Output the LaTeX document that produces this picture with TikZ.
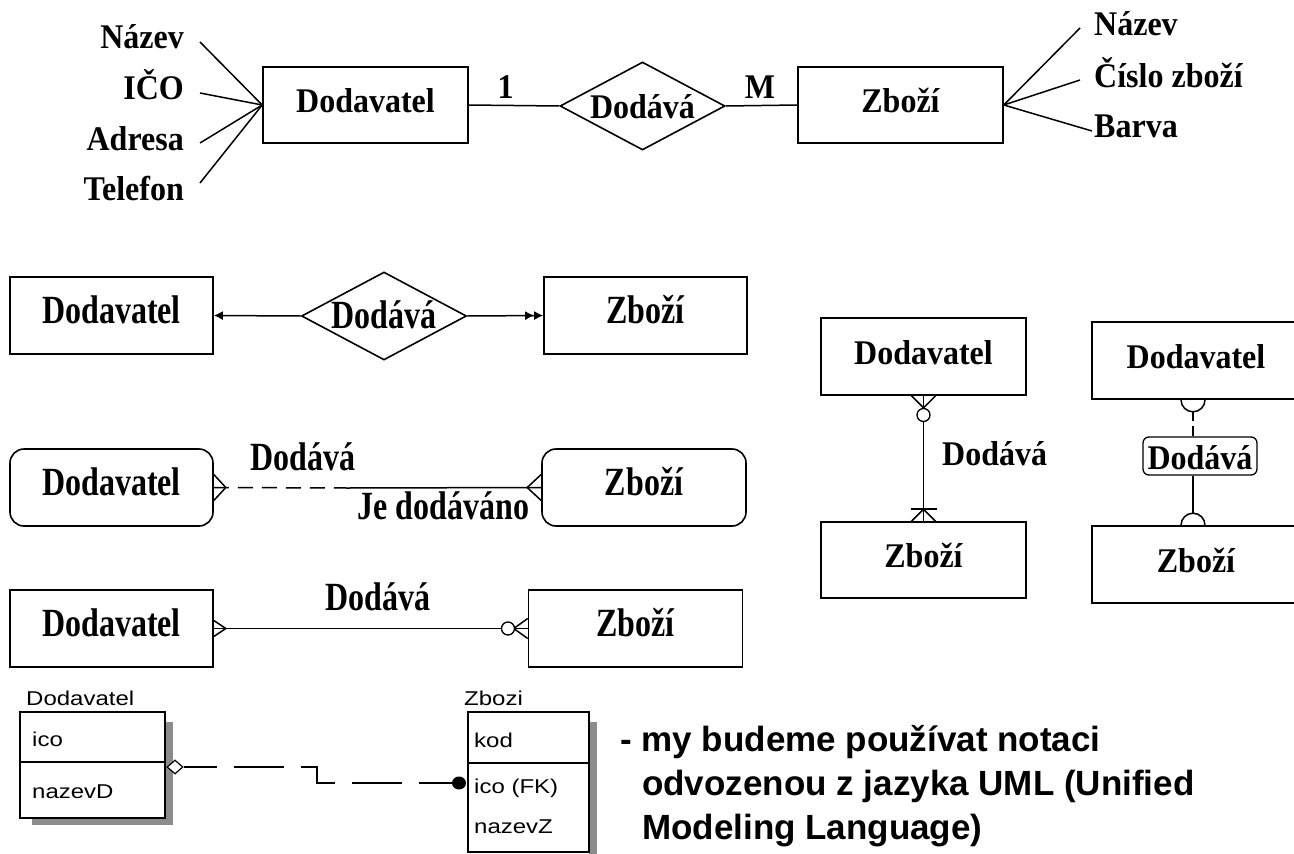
\documentclass[tikz,border=0pt]{standalone}
\usepackage{fontspec}
\setmainfont{Liberation Serif}
\setsansfont{Liberation Sans}
\usetikzlibrary{arrows.meta,shapes.geometric,calc}
\newcommand\tallt[1]{\scalebox{1}[1.25]{#1}}
\newcommand\tallu[1]{\scalebox{1}[1.08]{#1}}
\newcommand\widet[1]{\scalebox{1.2}[1]{#1}}
\tikzset{
  tfont/.style={font=\fontsize{32}{36}\selectfont\bfseries},
  box/.style={draw, line width=1.6pt, inner sep=0pt, text height=15pt, text depth=0pt, tfont},
  rbox/.style={box, rounded corners=14pt},
  dia/.style={draw, diamond, shape aspect=1.875, line width=1.6pt, inner sep=0pt,
    minimum width=165pt, minimum height=88pt, text height=24pt, text depth=0pt, tfont},
  conn/.style={line width=1.5pt},
  lbl/.style={tfont, anchor=base, inner sep=0pt},
  ring/.style={circle, draw, fill=white, line width=1.3pt, minimum size=13pt, inner sep=0pt},
  tbl/.style={draw, fill=white, line width=1.2pt, inner sep=0pt},
  shad/.style={fill=black!45, draw=none},
  tt/.style={font=\sffamily\fontsize{20}{24}\selectfont, anchor=base west, inner sep=0pt},
  note/.style={font=\sffamily\bfseries\fontsize{35}{40}\selectfont, anchor=base west, inner sep=0pt},
}
\begin{document}
\begin{tikzpicture}[x=1pt,y=-1pt]
\useasboundingbox (0,0) rectangle (1294,854);
\clip (0,0) rectangle (1294,854);
\fill[white] (0,0) rectangle (1294,854);

% ---------- top: Chen notation ----------
\node[box, minimum width=205pt, minimum height=76pt] (d1) at (365.5,105) {\tallu{Dodavatel}};
\node[box, minimum width=205pt, minimum height=76pt] (z1) at (900.5,105) {\tallu{Zboží}};
\node[dia] (r1) at (642.5,106) {\tallu{Dodává}};
\draw[conn] (d1.east) -- (r1.west);
\draw[conn] (r1.east) -- (z1.west);
\node[lbl] (one) at (505.5,98) {\tallu{1}};
\node[lbl] (em) at (760,98) {\tallu{M}};

\node[tfont, anchor=base east, inner sep=0pt] (aNaz) at (184,48) {\tallu{Název}};
\node[tfont, anchor=base east, inner sep=0pt] (aIco) at (184,99) {\tallu{IČO}};
\node[tfont, anchor=base east, inner sep=0pt] (aAdr) at (184,150) {\tallu{Adresa}};
\node[tfont, anchor=base east, inner sep=0pt] (aTel) at (184,200) {\tallu{Telefon}};
\coordinate (pNaz) at (200,42);
\coordinate (pIco) at (200,93);
\coordinate (pAdr) at (200,143);
\coordinate (pTel) at (200,183);
\foreach \p in {pNaz,pIco,pAdr,pTel} \draw[conn] (\p) -- (d1.west);

\node[tfont, anchor=base west, inner sep=0pt] (bNaz) at (1094,35) {\tallu{Název}};
\node[tfont, anchor=base west, inner sep=0pt] (bCis) at (1094,87) {\tallu{Číslo zboží}};
\node[tfont, anchor=base west, inner sep=0pt] (bBar) at (1094,137) {\tallu{Barva}};
\coordinate (qNaz) at (1080,28);
\coordinate (qCis) at (1080,80);
\coordinate (qBar) at (1092,131);
\foreach \p in {qNaz,qCis,qBar} \draw[conn] (z1.east) -- (\p);

% ---------- row 2 ----------
\node[box, minimum width=203pt, minimum height=77pt] (d2) at (111.5,315.5) {\tallt{Dodavatel}};
\node[box, minimum width=203pt, minimum height=77pt] (z2) at (645.5,315.5) {\tallt{Zboží}};
\node[dia] (r2) at (384,316) {\tallt{Dodává}};
\draw[conn, -{Latex[length=9pt,width=9pt]}] (r2.west) -- (d2.east);
\draw[conn, -{Latex[length=9pt,width=9pt]Latex[length=9pt,width=9pt]}] (r2.east) -- (z2.west);

% ---------- row 3 ----------
\node[rbox, minimum width=203pt, minimum height=77pt] (d3) at (111.5,487.5) {\tallt{Dodavatel}};
\node[rbox, minimum width=204pt, minimum height=77pt] (z3) at (644,487.5) {\tallt{Zboží}};
\coordinate (m3) at (348,488);
\draw[conn, dash pattern=on 15pt off 9pt] (d3.east) -- (m3);
\draw[conn] (m3) -- (z3.west);
\draw[conn] ($(d3.east)+(0,-13)$) -- ($(d3.east)+(12,0)$) -- ($(d3.east)+(0,13)$);
\draw[conn] ($(z3.west)+(0,-13)$) -- ($(z3.west)+(-14,0)$) -- ($(z3.west)+(0,13)$);
\node[lbl] (l3a) at (303,470) {\tallt{Dodává}};
\node[lbl] (l3b) at (443.5,519) {\tallt{Je dodáváno}};

% ---------- row 4 ----------
\node[box, minimum width=203pt, minimum height=77pt] (d4) at (111.5,628.5) {\tallt{Dodavatel}};
\node[box, minimum width=214pt, minimum height=77pt] (z4) at (635.5,628.5) {\tallt{Zboží}};
\draw[conn] (d4.east) -- (z4.west);
\draw[conn] ($(d4.east)+(0,-8)$) -- ($(d4.east)+(12,0)$) -- ($(d4.east)+(0,8)$);
\draw[conn] ($(z4.west)+(0,-10)$) -- ($(z4.west)+(-14,0)$) -- ($(z4.west)+(0,10)$);
\node[ring] (c4) at (508,628.5) {};
\node[lbl] (l4) at (378,610) {\tallt{Dodává}};

% ---------- right-left pair ----------
\node[box, minimum width=205pt, minimum height=77pt] (d5) at (923.5,356.5) {\tallu{Dodavatel}};
\node[box, minimum width=205pt, minimum height=76pt] (z5) at (923.5,560) {\tallu{Zboží}};
\draw[conn] (d5.south) -- (z5.north);
\draw[conn] ($(d5.south)+(-12,0)$) -- ($(d5.south)+(0,12)$) -- ($(d5.south)+(12,0)$);
\node[ring] (c5) at (923.5,415) {};
\draw[conn] ($(z5.north)+(-13,-12)$) -- ($(z5.north)+(13,-12)$);
\draw[conn] ($(z5.north)+(-12,0)$) -- ($(z5.north)+(0,-12)$) -- ($(z5.north)+(12,0)$);
\node[tfont, anchor=base west, inner sep=0pt] (l5) at (942,465) {\tallu{Dodává}};

% ---------- right-right pair ----------
\node[box, minimum width=208pt, minimum height=77pt] (d6) at (1196,360.5) {\tallu{Dodavatel}};
\node[box, minimum width=208pt, minimum height=77pt] (z6) at (1196,564.5) {\tallu{Zboží}};
\node[draw, line width=1.3pt, rounded corners=6pt, fill=white, tfont, inner sep=0pt,
  minimum width=114pt, minimum height=38pt, text height=26pt, text depth=0pt] (k6) at (1200,456) {\tallu{Dodává}};
\coordinate (s6a) at (1193,411);
\coordinate (s6b) at (1193,514);
\draw[conn] ($(d6.south)+(-15,0)$) arc[start angle=180, end angle=360, radius=12pt];
\draw[conn] ($(z6.north)+(-15,0)$) arc[start angle=180, end angle=0, radius=12pt];
\draw[conn, dash pattern=on 10pt off 5pt] (s6a) -- (s6a |- k6.north);
\draw[conn] (s6b |- k6.south) -- (s6b);

% ---------- bottom: tables ----------
\fill[shad] (165,722) rectangle (173,825);
\fill[shad] (32,818) rectangle (173,825);
\fill[shad] (589,722) rectangle (597,860);
\node[tbl, minimum width=145pt, minimum height=106pt] (t1) at (92.5,765) {};
\node[tbl, minimum width=121pt, minimum height=140pt] (t2) at (528.5,782) {};
\draw[line width=1.2pt] (t1.west |- 0,762) -- (t1.east |- 0,762);
\draw[line width=1.2pt] (t2.west |- 0,763) -- (t2.east |- 0,763);
\node[tt] (h1) at (26,705) {\widet{Dodavatel}};
\node[tt] (f1a) at (32,746) {\widet{ico}};
\node[tt] (f1b) at (32,798) {\widet{nazevD}};
\node[tt] (h2) at (464,705) {\widet{Zbozi}};
\node[tt] (f2a) at (474,747) {\widet{kod}};
\node[tt] (f2b) at (474,793) {\widet{ico (FK)}};
\node[tt] (f2c) at (474,833) {\widet{nazevZ}};
\node[diamond, draw, fill=white, line width=1.2pt, minimum width=16pt, minimum height=14pt, inner sep=0pt] (o7) at (175,767) {};
\node[ellipse, fill=black, minimum width=14pt, minimum height=13pt, inner sep=0pt] (b7) at (459,783) {};
\coordinate (k7a) at (317,767);
\coordinate (k7b) at (317,783);
\draw[line width=1.3pt, dash pattern=on 50pt off 17pt, dash phase=17pt] (o7.east) -- (k7a) -- (k7b) -- (b7.west);

% ---------- note ----------
\node[note] (n1) at (620,751) {- my budeme používat notaci};
\node[note] (n2) at (642,795) {odvozenou z jazyka UML (Unified};
\node[note] (n3) at (642,839) {Modeling Language)};
\end{tikzpicture}
\end{document}
